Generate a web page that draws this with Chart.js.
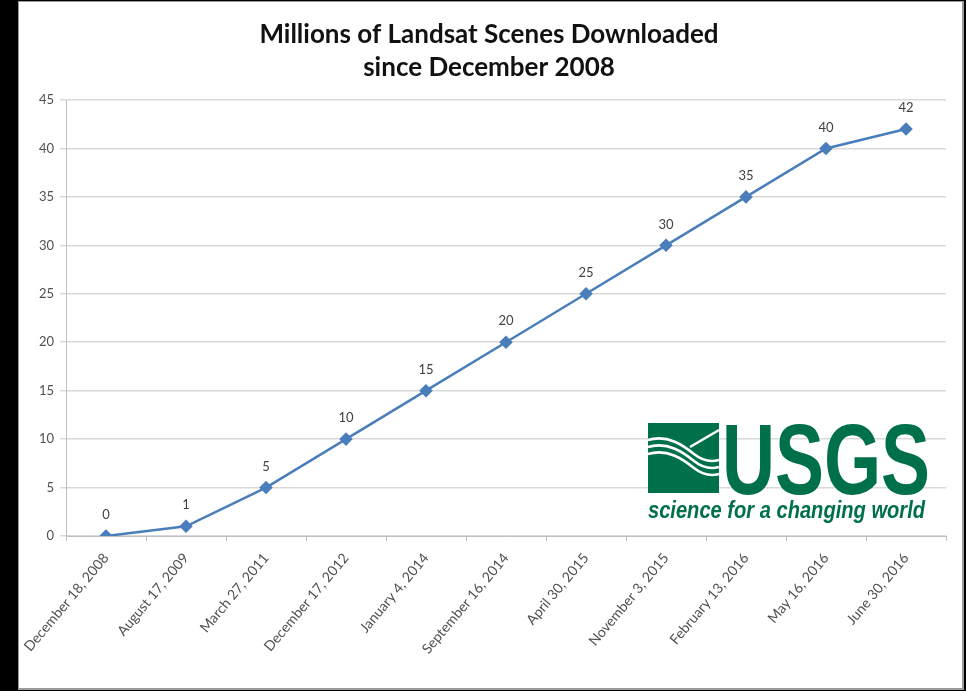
<!DOCTYPE html>
<html>
<head>
<meta charset="utf-8">
<script src="https://cdn.jsdelivr.net/npm/chart.js@4.4.0/dist/chart.umd.min.js"></script>
<style>
  html, body { margin: 0; padding: 0; background: #000; }
  #wrap { width: 966px; height: 691px; }
</style>
</head>
<body>
<div id="wrap"><canvas id="landsat-chart" width="966" height="691"></canvas></div>
<script>
// downloads in millions
const dates = [
  'December 18, 2008', 'August 17, 2009', 'March 27, 2011', 'December 17, 2012',
  'January 4, 2014', 'September 16, 2014', 'April 30, 2015', 'November 3, 2015',
  'February 13, 2016', 'May 16, 2016', 'June 30, 2016'
];
const downloads = [0, 1, 5, 10, 15, 20, 25, 30, 35, 40, 42];
const titleLines = ['Millions of Landsat Scenes Downloaded', 'since December 2008'];

const lineColor = '#4A7EBB';
const textGray = '#505050';

// white panel behind the chart, title on top
const panelPlugin = {
  id: 'panel',
  beforeDraw(chart) {
    const ctx = chart.ctx;
    ctx.save();
    ctx.fillStyle = '#9a9a9a';
    ctx.fillRect(18, 1, 946, 689);
    ctx.fillStyle = '#ffffff';
    ctx.fillRect(19, 2, 943, 686);
    ctx.fillStyle = '#111';
    ctx.font = 'bold 26px Lato';
    ctx.textAlign = 'center';
    ctx.textBaseline = 'alphabetic';
    ctx.fillText(titleLines[0], 489, 43);
    ctx.fillText(titleLines[1], 489, 76);
    ctx.restore();
  }
};

// value labels above each point
const valueLabels = {
  id: 'valueLabels',
  afterDatasetsDraw(chart) {
    const ctx = chart.ctx;
    const meta = chart.getDatasetMeta(0);
    ctx.save();
    ctx.font = '13px Lato';
    ctx.fillStyle = '#404040';
    ctx.textAlign = 'center';
    ctx.textBaseline = 'middle';
    meta.data.forEach((pt, i) => {
      ctx.fillText(String(downloads[i]), pt.x, pt.y - 21);
    });
    ctx.restore();
  }
};

// USGS logo in the lower right corner
const logoPlugin = {
  id: 'usgsLogo',
  afterDatasetsDraw(chart) {
    const ctx = chart.ctx;
    const green = '#00704A';
    ctx.save();
    ctx.fillStyle = green;
    ctx.fillRect(648, 423, 71, 70);
    // white waves
    ctx.strokeStyle = '#fff';
    ctx.lineWidth = 2.6;
    ctx.beginPath();
    ctx.moveTo(719, 430);
    ctx.lineTo(690, 447);
    ctx.stroke();
    for (let k = 0; k < 3; k++) {
      const y0 = 440 + k * 7;
      ctx.beginPath();
      ctx.moveTo(648, y0);
      ctx.bezierCurveTo(668, y0 - 6, 684, y0 + 6, 694, y0 + 14);
      ctx.bezierCurveTo(704, y0 + 22, 712, y0 + 22, 719, y0 + 20);
      ctx.stroke();
    }
    ctx.fillStyle = green;
    ctx.font = 'bold 100px "Liberation Sans Narrow", "Liberation Sans"';
    ctx.textBaseline = 'alphabetic';
    ctx.textAlign = 'left';
    ctx.fillText('USGS', 722, 494, 208);
    ctx.font = 'italic bold 23px "Liberation Sans Narrow", "Liberation Sans"';
    ctx.fillText('science for a changing world', 648, 518, 277);
    ctx.restore();
  }
};

const ctx = document.getElementById('landsat-chart').getContext('2d');
new Chart(ctx, {
  type: 'line',
  data: {
    labels: dates,
    datasets: [{
      label: 'Millions of scenes',
      data: downloads,
      borderColor: lineColor,
      backgroundColor: lineColor,
      borderWidth: 2.5,
      pointStyle: 'rectRot',
      pointRadius: 5,
      pointHoverRadius: 5,
      tension: 0
    }]
  },
  options: {
    responsive: false,
    animation: false,
    layout: { padding: { left: 19, right: 20, top: 100, bottom: 0 } },
    plugins: {
      legend: { display: false },
      tooltip: { enabled: false },
      title: { display: false }
    },
    scales: {
      x: {
        offset: true,
        grid: {
          offset: true,
          drawOnChartArea: false,
          drawTicks: true,
          tickLength: 5,
          color: '#bfbfbf'
        },
        border: { color: '#bfbfbf' },
        ticks: {
          autoSkip: false,
          minRotation: 50,
          maxRotation: 50,
          color: textGray,
          font: { family: 'Lato', size: 14 },
          padding: 9
        },
        afterFit(scale) { scale.height = 155; }
      },
      y: {
        min: 0,
        max: 45,
        grid: { color: '#d9d9d9', lineWidth: 1.5, tickLength: 6 },
        border: { color: '#bfbfbf' },
        ticks: {
          stepSize: 5,
          color: textGray,
          font: { family: 'Lato', size: 13 },
          padding: 6
        },
        afterFit(scale) { scale.width = 47; }
      }
    }
  },
  plugins: [panelPlugin, valueLabels, logoPlugin]
});
</script>
</body>
</html>
